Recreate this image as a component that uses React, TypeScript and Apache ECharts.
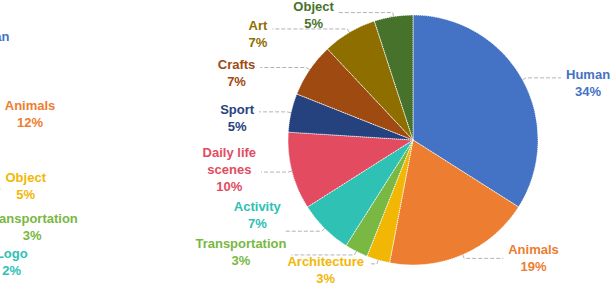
import React, { useEffect, useRef } from "react";
import * as echarts from "echarts";

const palette = [
  "#4472C4",
  "#ED7D31",
  "#F2B705",
  "#78B843",
  "#2EC1B4",
  "#E34B61",
  "#25427F",
  "#9E4A11",
  "#8F6E00",
  "#47722B",
];

const rightCategories = [
  "Human",
  "Animals",
  "Architecture",
  "Transportation",
  "Activity",
  "Daily life scenes",
  "Sport",
  "Crafts",
  "Art",
  "Object",
];
const rightValues = [34, 19, 3, 3, 7, 10, 5, 7, 7, 5];

// second chart (mostly outside the visible area)
const leftCategories = ["Human", "Animals", "Object", "Transportation", "Logo", "Others"];
const leftValues = [7, 12, 5, 3, 2, 71];

// label placement tweaks (layout only)
const rightLineLen2 = [35, 39, 8, 63, 36, 27, 28, 46, 75, 54];
const rightLabelDy = [5, 0, 6, -3, -16, -3, 6, 6, 5, 2];
const leftLabelDx = [0, 0, 0, -10, 14, 0];
const leftLabelDy = [2, 0, -3, 5, 8, 0];

const FONT = "'Liberation Sans', Arial, Helvetica, sans-serif";

function fmt(p: any) {
  let name: string = p.name;
  if (name.length > 14 && name.indexOf(" ") > 0) {
    const i = name.lastIndexOf(" ");
    name = name.slice(0, i) + "\n" + name.slice(i + 1);
  }
  const lines = name.split("\n");
  lines.push(Math.round(p.percent) + "%");
  return lines.map((l) => "{a|" + l + "}").join("\n");
}

function buildData(cats: string[], vals: number[], hideLast: boolean, len2?: number[]) {
  return cats.map((c, i) => {
    const color = palette[i % palette.length];
    const item: any = {
      name: c,
      value: vals[i],
      itemStyle: { color },
      label: { color },
    };
    if (len2) item.labelLine = { length2: len2[i] };
    if (hideLast && i === cats.length - 1) {
      item.label = { show: false };
      item.labelLine = { show: false };
    }
    return item;
  });
}

const labelCfg = {
  show: true,
  position: "outside",
  formatter: fmt,
  overflow: "none",
  fontFamily: FONT,
  fontWeight: "bold",
  fontSize: 13,
  rich: {
    a: {
      align: "center",
      fontFamily: FONT,
      fontWeight: "bold",
      fontSize: 13,
      lineHeight: 17,
    },
  },
};

const labelLineCfg = {
  show: true,
  length: 4,
  length2: 36,
  lineStyle: { color: "#b3b3b3", width: 1, type: "dashed" },
};

export default function App() {
  const ref = useRef<HTMLDivElement>(null);
  useEffect(() => {
    if (!ref.current) return;
    const chart = echarts.init(ref.current, undefined, { renderer: "svg" });
    chart.setOption({
      animation: false,
      backgroundColor: "#ffffff",
      series: [
        {
          type: "pie",
          center: [413, 140],
          radius: 125,
          startAngle: 90,
          clockwise: true,
          avoidLabelOverlap: false,
          data: buildData(rightCategories, rightValues, false, rightLineLen2),
          itemStyle: { borderColor: "#ffffff", borderWidth: 1, borderType: "dotted" },
          label: labelCfg,
          labelLine: labelLineCfg,
          labelLayout: (params: any) => ({ dy: rightLabelDy[params.dataIndex] || 0 }),
        },
        {
          type: "pie",
          center: [-169, 150],
          radius: 138,
          startAngle: 61.5,
          clockwise: true,
          data: buildData(leftCategories, leftValues, true),
          itemStyle: { borderColor: "#ffffff", borderWidth: 1, borderType: "dotted" },
          label: labelCfg,
          labelLine: labelLineCfg,
          labelLayout: (params: any) => ({
            dx: leftLabelDx[params.dataIndex] || 0,
            dy: leftLabelDy[params.dataIndex] || 0,
          }),
        },
      ],
    });
    return () => chart.dispose();
  }, []);
  return (
    <div
      ref={ref}
      style={{ position: "fixed", left: 0, top: 0, width: 612, height: 290 }}
    />
  );
}
